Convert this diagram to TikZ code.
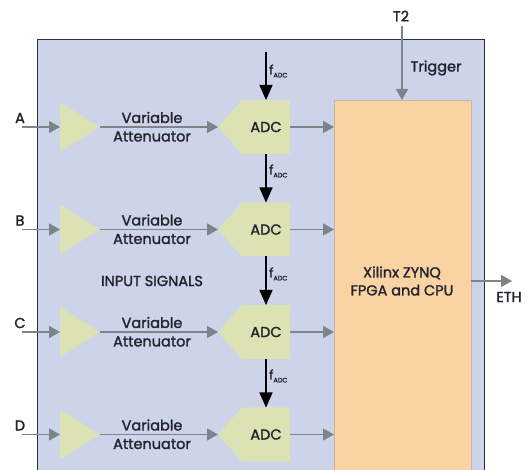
\documentclass[tikz,border=0pt]{standalone}
\usepackage{fontspec}
\setmainfont{Poppins}[FakeBold=1.6]
\usetikzlibrary{arrows.meta}
\definecolor{bluebg}{HTML}{CDD3E8}
\definecolor{boxline}{HTML}{2B2D42}
\definecolor{orangebg}{HTML}{FAD3A2}
\definecolor{orangeline}{HTML}{C9B4A4}
\definecolor{ampfill}{HTML}{DDE2B4}
\definecolor{grayarrow}{HTML}{7C8389}
\definecolor{txt}{HTML}{23232E}
\tikzset{
  garrow/.style={draw=grayarrow, line width=1.3pt, -{Triangle[length=11pt,width=12pt]}},
  karrow/.style={draw=black, line width=1.5pt, -{Triangle[length=15pt,width=13pt]}},
  lbl/.style={text=txt, font=\fontsize{14.5}{17}\selectfont, inner sep=0pt},
  flbl/.style={text=txt, font=\fontsize{13}{15}\selectfont, inner sep=0pt, anchor=west},
}
\newcommand{\fadc}{f\raisebox{-3pt}{\fontsize{6.5}{7}\selectfont ADC}}
\begin{document}
\begin{tikzpicture}[x=1pt,y=-1pt]
\useasboundingbox (0,0) rectangle (528,470);
\clip (0,0) rectangle (528,470);
% main box
\path[fill=bluebg, draw=boxline, line width=1pt] (37,40) rectangle (484,480);
% FPGA box
\node[fill=orangebg, draw=orangeline, line width=0.6pt, minimum width=137pt, minimum height=380pt, anchor=north west, inner sep=0pt] (fpga) at (334,100) {};
\node[lbl, align=center] (fpgatxt) at (402,281) {Xilinx ZYNQ\\[1pt]FPGA and CPU};
% trigger
\node[lbl] (t2) at (401,16) {T2};
\coordinate (t2bot) at (402,26);
\coordinate (fpgatop) at (402,100);
\draw[garrow] (t2bot) -- (fpgatop);
\node[lbl] (trig) at (436,68) {Trigger};
% ETH
\coordinate (fpgaR) at (471,281);
\coordinate (ethtip) at (512,281);
\draw[garrow] (fpgaR) -- (ethtip);
\node[lbl] (eth) at (509,297) {ETH};
% input signals label
\node[lbl] (insig) at (152,281) {INPUT SIGNALS};
% rows
\foreach \n/\y in {A/127,B/229.5,C/332,D/434.5} {
  \node[lbl] (lab\n) at (20,\y-9) {\n};
  \coordinate (in\n) at (22,\y);
  \coordinate (ampL\n) at (60,\y);
  \coordinate (ampR\n) at (100,\y);
  \fill[ampfill] (60,\y-25) -- (100,\y) -- (60,\y+25) -- cycle;
  \draw[garrow] (in\n) -- (ampL\n);
  \coordinate (adcL\n) at (218,\y);
  \coordinate (adcR\n) at (290,\y);
  \coordinate (adcT\n) at (266,\y-27);
  \coordinate (adcB\n) at (266,\y+27);
  \fill[ampfill] (218,\y) -- (242,\y-27) -- (290,\y-27) -- (290,\y+27) -- (242,\y+27) -- cycle;
  \node[lbl] (adc\n) at (266,\y) {ADC};
  \draw[garrow] (ampR\n) -- (adcL\n);
  \node[lbl] (var\n) at (152,\y-9.5) {Variable};
  \node[lbl] (att\n) at (152,\y+9.5) {Attenuator};
  \coordinate (fpgaIn\n) at (334,\y);
  \draw[garrow] (adcR\n) -- (fpgaIn\n);
}
% clock arrows
\coordinate (clk0) at (266,52);
\draw[karrow] (clk0) -- (adcTA);
\node[flbl] (fl0) at (269,71) {\fadc};
\draw[karrow] (adcBA) -- (adcTB);
\node[flbl] (fl1) at (269,171) {\fadc};
\draw[karrow] (adcBB) -- (adcTC);
\node[flbl] (fl2) at (269,274) {\fadc};
\draw[karrow] (adcBC) -- (adcTD);
\node[flbl] (fl3) at (269,376) {\fadc};
\end{tikzpicture}
\end{document}
